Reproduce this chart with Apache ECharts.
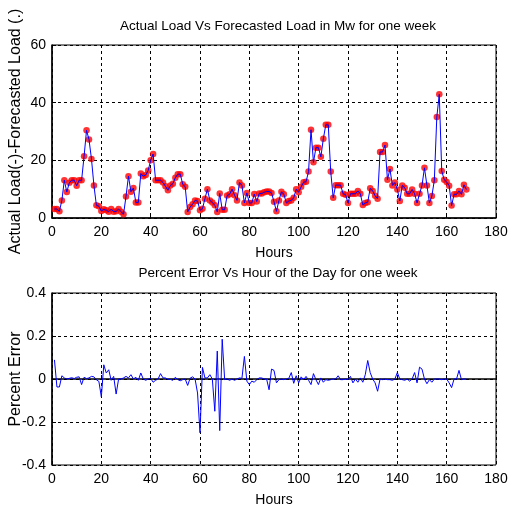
<!DOCTYPE html>
<html>
<head>
<meta charset="utf-8">
<script src="https://cdn.jsdelivr.net/npm/echarts@6/dist/echarts.min.js"></script>
<style>
html,body{margin:0;padding:0;background:#fff;}
#c{width:510px;height:506px;}
</style>
</head>
<body>
<div id="c"></div>
<script>
// Hour index of each reading (1..168)
const hours = [];
for (let i = 1; i <= 168; i++) hours.push(i);

// Load in MW (actual ≈ forecast)
const load = [
  3.1, 3.1, 2.3, 6.1, 13.1, 9.0, 12.2, 13.1, 13.1, 11.2,
  13.1, 13.1, 21.4, 30.4, 27.2, 20.5, 11.3, 4.4, 4.1, 2.4,
  3.0, 2.7, 2.2, 3.1, 2.2, 2.3, 3.1, 2.2, 1.3, 7.5,
  14.5, 9.1, 10.4, 5.4, 5.4, 15.4, 14.5, 14.9, 16.5, 20.0,
  22.2, 13.1, 13.1, 13.1, 12.3, 11.0, 9.6, 11.3, 11.9, 14.0,
  15.2, 15.2, 11.7, 10.8, 2.1, 3.8, 4.8, 6.1, 5.9, 2.7,
  3.2, 6.7, 10.0, 6.1, 5.4, 4.4, 2.1, 8.5, 2.9, 2.9,
  7.8, 8.2, 10.0, 7.9, 6.1, 12.3, 11.3, 5.2, 8.7, 5.2,
  5.2, 8.3, 5.7, 8.5, 8.5, 8.9, 9.2, 9.2, 8.7, 5.6,
  2.3, 6.1, 9.1, 8.2, 5.2, 5.9, 6.1, 7.0, 10.0, 8.9,
  10.8, 12.4, 12.6, 16.1, 30.6, 19.3, 24.4, 24.4, 21.2, 27.5,
  32.3, 32.3, 16.1, 7.0, 11.4, 11.4, 11.4, 8.4, 8.1, 5.2,
  8.4, 8.4, 8.4, 9.4, 8.4, 4.5, 5.2, 5.5, 10.3, 9.4,
  7.7, 6.7, 22.9, 22.9, 25.3, 13.3, 17.0, 11.3, 12.3, 9.9,
  5.9, 11.3, 10.5, 8.4, 8.4, 9.9, 8.4, 5.2, 8.4, 11.3,
  17.4, 11.3, 5.2, 7.6, 13.1, 35.0, 42.9, 16.3, 13.3, 12.5,
  11.2, 4.3, 8.2, 8.2, 9.4, 8.2, 11.5, 9.9
];

// Percent error per hour
const pctError = [
  0.089, -0.037, -0.037, 0.015, 0.005, 0.0, 0.003, 0.006, 0.002, 0.008,
  0.01, -0.026, 0.008, 0.002, 0.005, 0.012, 0.01, -0.004, -0.011, -0.083,
  0.066, 0.028, 0.043, -0.006, 0.012, -0.07, 0.0, 0.0, 0.005, 0.012,
  0.005, 0.02, 0.0, 0.008, -0.006, 0.028, 0.0, -0.006, 0.0, 0.003,
  -0.015, -0.006, 0.0, 0.025, 0.005, 0.005, -0.002, -0.002, -0.006, 0.008,
  -0.003, -0.008, -0.003, 0.0, -0.03, 0.004, 0.01, 0.0, -0.065, -0.25,
  0.054, 0.005, 0.005, 0.02, 0.0, -0.15, 0.13, -0.24, 0.185, -0.003,
  0.0, -0.006, 0.0, -0.006, 0.0, 0.005, 0.003, 0.105, -0.01, -0.026,
  -0.01, -0.015, -0.003, 0.005, 0.005, 0.0, 0.0, -0.05, 0.046, 0.04,
  -0.018, -0.003, 0.0, -0.003, 0.0, 0.003, 0.03, -0.02, 0.015, -0.018,
  0.01, -0.003, 0.012, -0.006, -0.026, 0.025, -0.003, -0.026, 0.005, -0.015,
  -0.003, -0.006, -0.003, 0.0, 0.0, 0.015, -0.003, -0.003, 0.0, -0.003,
  0.012, -0.018, 0.0, -0.015, 0.005, -0.015, 0.02, 0.086, 0.03, 0.0,
  -0.018, -0.057, 0.0, -0.003, 0.0, -0.003, -0.003, -0.006, 0.0, 0.03,
  0.0, -0.003, -0.006, 0.0, -0.01, 0.0, 0.03, -0.018, 0.055, 0.046,
  0.0, -0.022, -0.003, -0.015, 0.0, 0.0, 0.0, -0.003, 0.0, 0.0,
  -0.018, -0.04, 0.0, 0.0, 0.04, -0.003, 0.0, 0.0
];

const xTicks = [0, 20, 40, 60, 80, 100, 120, 140, 160, 180];
const loadTicks = [0, 20, 40, 60];
const errTicks = [-0.4, -0.2, 0, 0.2, 0.4];

const titles = ['Actual Load Vs Forecasted Load in Mw for one week',
                'Percent Error Vs Hour of the Day for one week'];
const xName = 'Hours';
const yNames = ['Actual Load(-)-Forecasted Load (.)', 'Percent Error'];

const FONT = 'Liberation Sans, Arial, sans-serif';
const pair = (xs, ys) => xs.map((x, i) => [x, ys[i]]);

function xAxisOf(gi) {
  return {
    gridIndex: gi, type: 'value',
    min: xTicks[0], max: xTicks[xTicks.length - 1], interval: xTicks[1] - xTicks[0],
    name: xName, nameLocation: 'middle', nameGap: 28, nameMoveOverlap: false,
    nameTextStyle: {color: '#000', fontSize: 14, fontFamily: FONT},
    axisLine: {show: true, lineStyle: {color: '#000', width: 1.5}},
    axisTick: {show: true, inside: true, length: 4, lineStyle: {color: '#000'}},
    axisLabel: {color: '#000', fontSize: 14, fontFamily: FONT, margin: 7},
    splitLine: {show: true, lineStyle: {color: '#000', type: [3, 3], width: 1}}
  };
}
function yAxisOf(gi, ticks, name, gap) {
  return {
    gridIndex: gi, type: 'value',
    min: ticks[0], max: ticks[ticks.length - 1], interval: ticks[1] - ticks[0],
    name: name, nameLocation: 'middle', nameGap: gap, nameRotate: 90, nameMoveOverlap: false,
    nameTextStyle: {color: '#000', fontSize: 16, fontFamily: FONT},
    axisLine: {show: true, lineStyle: {color: '#000', width: 1.5}},
    axisTick: {show: true, inside: true, length: 4, lineStyle: {color: '#000'}},
    axisLabel: {color: '#000', fontSize: 14, fontFamily: FONT, margin: 6},
    splitLine: {show: true, lineStyle: {color: '#000', type: [3, 3], width: 1}}
  };
}

const chart = echarts.init(document.getElementById('c'), null, {renderer: 'canvas'});
chart.setOption({
  animation: false,
  backgroundColor: '#fff',
  title: [
    {text: titles[0], left: 273, top: 14, textAlign: 'center',
     textStyle: {fontSize: 13.5, fontWeight: 'normal', color: '#000', fontFamily: FONT}},
    {text: titles[1], left: 273, top: 261, textAlign: 'center',
     textStyle: {fontSize: 13.5, fontWeight: 'normal', color: '#000', fontFamily: FONT}}
  ],
  grid: [
    {left: 52, top: 45, width: 444, height: 173, show: true, borderColor: '#000', borderWidth: 1,
     backgroundColor: 'transparent', containLabel: false, outerBoundsMode: 'none'},
    {left: 52, top: 293, width: 444, height: 172, show: true, borderColor: '#000', borderWidth: 1,
     backgroundColor: 'transparent', containLabel: false, outerBoundsMode: 'none'}
  ],
  xAxis: [xAxisOf(0), xAxisOf(1)],
  yAxis: [yAxisOf(0, loadTicks, yNames[0], 28), yAxisOf(1, errTicks, yNames[1], 28)],
  series: [
    {type: 'scatter', xAxisIndex: 0, yAxisIndex: 0, data: pair(hours, load),
     symbol: 'circle', symbolSize: 6.5, itemStyle: {color: '#ff0000'}, z: 2},
    {type: 'line', xAxisIndex: 0, yAxisIndex: 0, data: pair(hours, load),
     showSymbol: false, lineStyle: {color: '#0000ff', width: 1}, z: 3},
    {type: 'line', xAxisIndex: 1, yAxisIndex: 1, data: pair(hours, pctError),
     showSymbol: false, lineStyle: {color: '#0000ff', width: 1}, z: 3}
  ]
});
</script>
</body>
</html>
